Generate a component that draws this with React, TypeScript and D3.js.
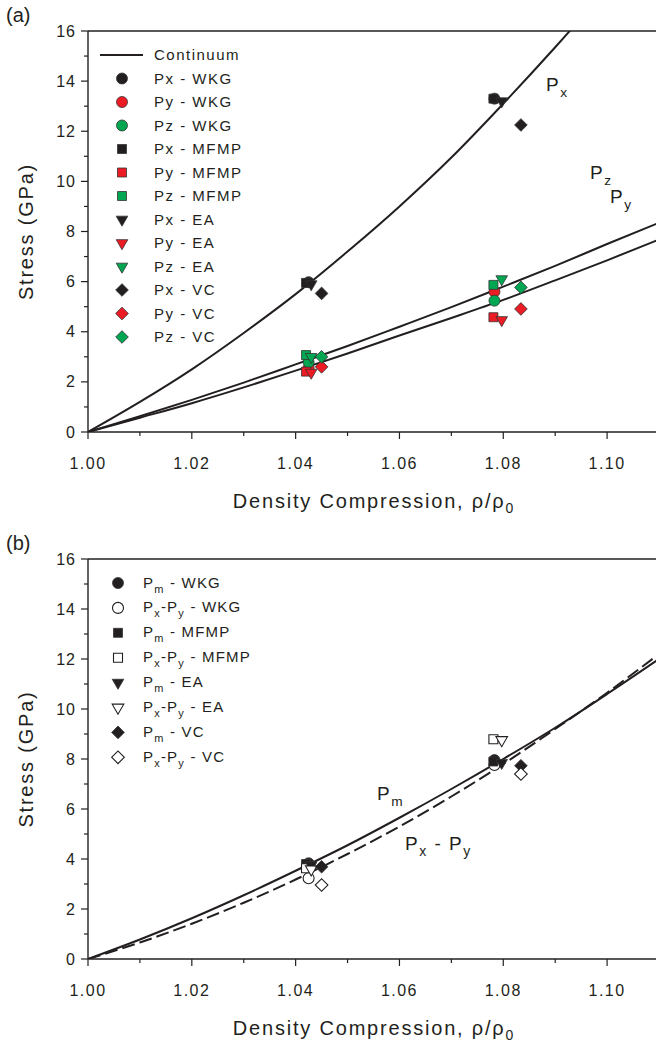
import React from "react";
import * as d3 from "d3";

const W = 656;
const H = 1044;
const FONT = "'Liberation Sans', Arial, sans-serif";
const INK = "#231f20";
const RED = "#ed1c24";
const GREEN = "#00a651";

// axes
const xTicks = [1.0, 1.02, 1.04, 1.06, 1.08, 1.1];
const xMinor = [1.01, 1.03, 1.05, 1.07, 1.09];
const yTicks = [0, 2, 4, 6, 8, 10, 12, 14, 16];
const yMinor = [1, 3, 5, 7, 9, 11, 13, 15];

// continuum curves
const curveDensity = [1.0, 1.01, 1.02, 1.03, 1.04, 1.05, 1.06, 1.07, 1.08, 1.09, 1.1, 1.11];
const pxContinuum = [0, 1.2, 2.5, 3.95, 5.5, 7.2, 9.0, 10.95, 13.1, 15.35, 17.7, 20.1];
const pyContinuum = [0, 0.57, 1.15, 1.78, 2.45, 3.13, 3.85, 4.55, 5.27, 6.05, 6.85, 7.68];
const pzContinuum = [0, 0.63, 1.28, 1.97, 2.7, 3.43, 4.2, 4.98, 5.8, 6.63, 7.5, 8.35];
const pmContinuum = [0, 0.78, 1.63, 2.55, 3.53, 4.55, 5.65, 6.8, 8.0, 9.25, 10.6, 12.0];
const pxpyContinuum = [0, 0.66, 1.41, 2.25, 3.18, 4.2, 5.3, 6.5, 7.8, 9.2, 10.65, 12.2];

// simulation results (two compressions per method)
const densWKG = [1.0425, 1.0783];
const densMFMP = [1.042, 1.0781];
const densEA = [1.043, 1.0797];
const densVC = [1.045, 1.0834];

const pxWKG = [5.98, 13.3];
const pyWKG = [2.55, 5.6];
const pzWKG = [2.78, 5.24];
const pxMFMP = [5.95, 13.3];
const pyMFMP = [2.41, 4.58];
const pzMFMP = [3.07, 5.87];
const pxEA = [5.9, 13.2];
const pyEA = [2.37, 4.47];
const pzEA = [3.0, 6.1];
const pxVC = [5.53, 12.25];
const pyVC = [2.6, 4.91];
const pzVC = [3.0, 5.77];

const pmWKG = [3.83, 7.96];
const dWKG = [3.23, 7.76];
const pmMFMP = [3.8, 7.9];
const dMFMP = [3.63, 8.79];
const pmEA = [3.75, 7.85];
const dEA = [3.59, 8.76];
const pmVC = [3.69, 7.73];
const dVC = [2.96, 7.4];

type Shape = "circle" | "square" | "down" | "diamond";

function symbolPath(shape: Shape) {
  if (shape === "circle") return d3.symbol().type(d3.symbolCircle).size(95)();
  if (shape === "down") return d3.symbol().type(d3.symbolTriangle).size(58)();
  return d3.symbol().type(d3.symbolSquare).size(shape === "diamond" ? 80 : 81)();
}
function symbolRot(shape: Shape) {
  if (shape === "down") return " rotate(180)";
  if (shape === "diamond") return " rotate(45)";
  return "";
}

function Mark({ x, y, shape, fill }: { x: number; y: number; shape: Shape; fill: string }) {
  const open = fill === "white";
  return (
    <path
      d={symbolPath(shape) || ""}
      transform={`translate(${x},${y})${symbolRot(shape)}`}
      fill={fill}
      stroke={open ? INK : "#333"}
      strokeWidth={open ? 1.1 : 0.8}
    />
  );
}

const x = d3.scaleLinear().domain([1.0, 1.11]).range([88, 659]);

function Axes({ y, top, bottom, tag }: { y: d3.ScaleLinear<number, number>; top: number; bottom: number; tag: string }) {
  return (
    <g fontFamily={FONT} fill={INK}>
      <line x1={88} x2={W} y1={top} y2={top} stroke={INK} strokeWidth={1.4} />
      <line x1={88} x2={W} y1={bottom} y2={bottom} stroke={INK} strokeWidth={1.4} />
      <line x1={88} x2={88} y1={top} y2={bottom} stroke={INK} strokeWidth={1.4} />
      {yTicks.map((t) => (
        <g key={"y" + t}>
          <line x1={81} x2={88} y1={y(t)} y2={y(t)} stroke={INK} strokeWidth={1.2} />
          <text x={76} y={y(t)} dy="0.35em" textAnchor="end" fontSize={16} style={{ letterSpacing: "1px" }}>
            {t}
          </text>
        </g>
      ))}
      {yMinor.map((t) => (
        <line key={"ym" + t} x1={84} x2={88} y1={y(t)} y2={y(t)} stroke={INK} strokeWidth={1.2} />
      ))}
      {xTicks.map((t) => (
        <g key={"x" + t}>
          <line x1={x(t)} x2={x(t)} y1={bottom} y2={bottom + 7} stroke={INK} strokeWidth={1.2} />
          <text x={x(t)} y={bottom + 37} textAnchor="middle" fontSize={16} style={{ letterSpacing: "1.5px" }}>
            {t.toFixed(2)}
          </text>
        </g>
      ))}
      {xMinor.map((t) => (
        <line key={"xm" + t} x1={x(t)} x2={x(t)} y1={bottom} y2={bottom + 4} stroke={INK} strokeWidth={1.2} />
      ))}
      <text x={374} y={bottom + 76} textAnchor="middle" fontSize={20} style={{ letterSpacing: "1.8px" }}>
        Density Compression, ρ/ρ<tspan dy={5} fontSize={14}>0</tspan>
      </text>
      <text
        transform={`translate(33,${(top + bottom) / 2}) rotate(-90)`}
        textAnchor="middle"
        fontSize={20}
        style={{ letterSpacing: "1.8px" }}
      >
        Stress (GPa)
      </text>
      <text x={6} y={top - 9} fontSize={20}>
        {tag}
      </text>
    </g>
  );
}

function Sub({ x: tx, y: ty, main, sub, size = 19 }: { x: number; y: number; main: string; sub: string; size?: number }) {
  return (
    <text x={tx} y={ty} fontFamily={FONT} fontSize={size} fill={INK} style={{ letterSpacing: "1.5px" }}>
      {main}
      <tspan dy={6} fontSize={size * 0.72}>
        {sub}
      </tspan>
    </text>
  );
}

export default function App() {
  const yA = d3.scaleLinear().domain([0, 16]).range([432, 31]);
  const yB = d3.scaleLinear().domain([0, 16]).range([959, 559]);

  const lineA = (vals: number[]) =>
    d3
      .line<number>()
      .x((_, i) => x(curveDensity[i]))
      .y((v) => yA(v))
      .curve(d3.curveMonotoneX)(vals) || "";
  const lineB = (vals: number[]) =>
    d3
      .line<number>()
      .x((_, i) => x(curveDensity[i]))
      .y((v) => yB(v))
      .curve(d3.curveMonotoneX)(vals) || "";

  const seriesA: { dens: number[]; vals: number[]; shape: Shape; fill: string; label: string }[] = [
    { dens: densWKG, vals: pxWKG, shape: "circle", fill: INK, label: "Px - WKG" },
    { dens: densWKG, vals: pyWKG, shape: "circle", fill: RED, label: "Py - WKG" },
    { dens: densWKG, vals: pzWKG, shape: "circle", fill: GREEN, label: "Pz - WKG" },
    { dens: densMFMP, vals: pxMFMP, shape: "square", fill: INK, label: "Px - MFMP" },
    { dens: densMFMP, vals: pyMFMP, shape: "square", fill: RED, label: "Py - MFMP" },
    { dens: densMFMP, vals: pzMFMP, shape: "square", fill: GREEN, label: "Pz - MFMP" },
    { dens: densEA, vals: pxEA, shape: "down", fill: INK, label: "Px - EA" },
    { dens: densEA, vals: pyEA, shape: "down", fill: RED, label: "Py - EA" },
    { dens: densEA, vals: pzEA, shape: "down", fill: GREEN, label: "Pz - EA" },
    { dens: densVC, vals: pxVC, shape: "diamond", fill: INK, label: "Px - VC" },
    { dens: densVC, vals: pyVC, shape: "diamond", fill: RED, label: "Py - VC" },
    { dens: densVC, vals: pzVC, shape: "diamond", fill: GREEN, label: "Pz - VC" },
  ];

  const seriesB: { dens: number[]; vals: number[]; shape: Shape; fill: string; method: string; diff: boolean }[] = [
    { dens: densWKG, vals: pmWKG, shape: "circle", fill: INK, method: "WKG", diff: false },
    { dens: densWKG, vals: dWKG, shape: "circle", fill: "white", method: "WKG", diff: true },
    { dens: densMFMP, vals: pmMFMP, shape: "square", fill: INK, method: "MFMP", diff: false },
    { dens: densMFMP, vals: dMFMP, shape: "square", fill: "white", method: "MFMP", diff: true },
    { dens: densEA, vals: pmEA, shape: "down", fill: INK, method: "EA", diff: false },
    { dens: densEA, vals: dEA, shape: "down", fill: "white", method: "EA", diff: true },
    { dens: densVC, vals: pmVC, shape: "diamond", fill: INK, method: "VC", diff: false },
    { dens: densVC, vals: dVC, shape: "diamond", fill: "white", method: "VC", diff: true },
  ];

  return (
    <div>
      <style>{`body{margin:0}`}</style>
      <svg width={W} height={H} style={{ display: "block", background: "#fff" }}>
        <defs>
          <clipPath id="clipA">
            <rect x={88} y={31} width={W - 88} height={401} />
          </clipPath>
          <clipPath id="clipB">
            <rect x={88} y={559} width={W - 88} height={400} />
          </clipPath>
        </defs>

        {/* panel (a) */}
        <Axes y={yA} top={31} bottom={432} tag="(a)" />
        <g clipPath="url(#clipA)" fill="none" stroke={INK} strokeWidth={2}>
          <path d={lineA(pxContinuum)} />
          <path d={lineA(pyContinuum)} />
          <path d={lineA(pzContinuum)} />
        </g>
        {seriesA.map((s, si) =>
          s.vals.map((v, i) => <Mark key={"a" + si + "-" + i} x={x(s.dens[i])} y={yA(v)} shape={s.shape} fill={s.fill} />)
        )}
        <Sub x={546} y={91} main="P" sub="x" />
        <Sub x={590} y={179} main="P" sub="z" />
        <Sub x={610} y={203} main="P" sub="y" />

        <g fontFamily={FONT} fontSize={15} fill={INK} style={{ letterSpacing: "1.5px" }}>
          <line x1={100} x2={143} y1={55} y2={55} stroke={INK} strokeWidth={1.8} />
          <text x={154} y={55} dy="0.35em">
            Continuum
          </text>
          {seriesA.map((s, i) => {
            const ly = 55 + (i + 1) * 23.5;
            return (
              <g key={"la" + i}>
                <Mark x={122} y={ly} shape={s.shape} fill={s.fill} />
                <text x={154} y={ly} dy="0.35em">
                  {s.label}
                </text>
              </g>
            );
          })}
        </g>

        {/* panel (b) */}
        <Axes y={yB} top={559} bottom={959} tag="(b)" />
        <g clipPath="url(#clipB)" fill="none" stroke={INK} strokeWidth={2}>
          <path d={lineB(pmContinuum)} />
          <path d={lineB(pxpyContinuum)} strokeDasharray="13,5" />
        </g>
        {seriesB.map((s, si) =>
          s.vals.map((v, i) => <Mark key={"b" + si + "-" + i} x={x(s.dens[i])} y={yB(v)} shape={s.shape} fill={s.fill} />)
        )}
        <Sub x={377} y={800} main="P" sub="m" />
        <text x={405} y={850} fontFamily={FONT} fontSize={19} fill={INK} style={{ letterSpacing: "1.5px" }}>
          P<tspan dy={6} fontSize={14}>x</tspan>
          <tspan dy={-6}> - P</tspan>
          <tspan dy={6} fontSize={14}>y</tspan>
        </text>

        <g fontFamily={FONT} fontSize={15} fill={INK} style={{ letterSpacing: "1.2px" }}>
          {seriesB.map((s, i) => {
            const ly = 583 + i * 24.9;
            return (
              <g key={"lb" + i}>
                <Mark x={118} y={ly} shape={s.shape} fill={s.fill} />
                {s.diff ? (
                  <text x={143} y={ly} dy="0.3em">
                    P<tspan dy={5} fontSize={11}>x</tspan>
                    <tspan dy={-5}>-P</tspan>
                    <tspan dy={5} fontSize={11}>y</tspan>
                    <tspan dy={-5}>{" - " + s.method}</tspan>
                  </text>
                ) : (
                  <text x={143} y={ly} dy="0.3em">
                    P<tspan dy={5} fontSize={11}>m</tspan>
                    <tspan dy={-5}>{" - " + s.method}</tspan>
                  </text>
                )}
              </g>
            );
          })}
        </g>
      </svg>
    </div>
  );
}
